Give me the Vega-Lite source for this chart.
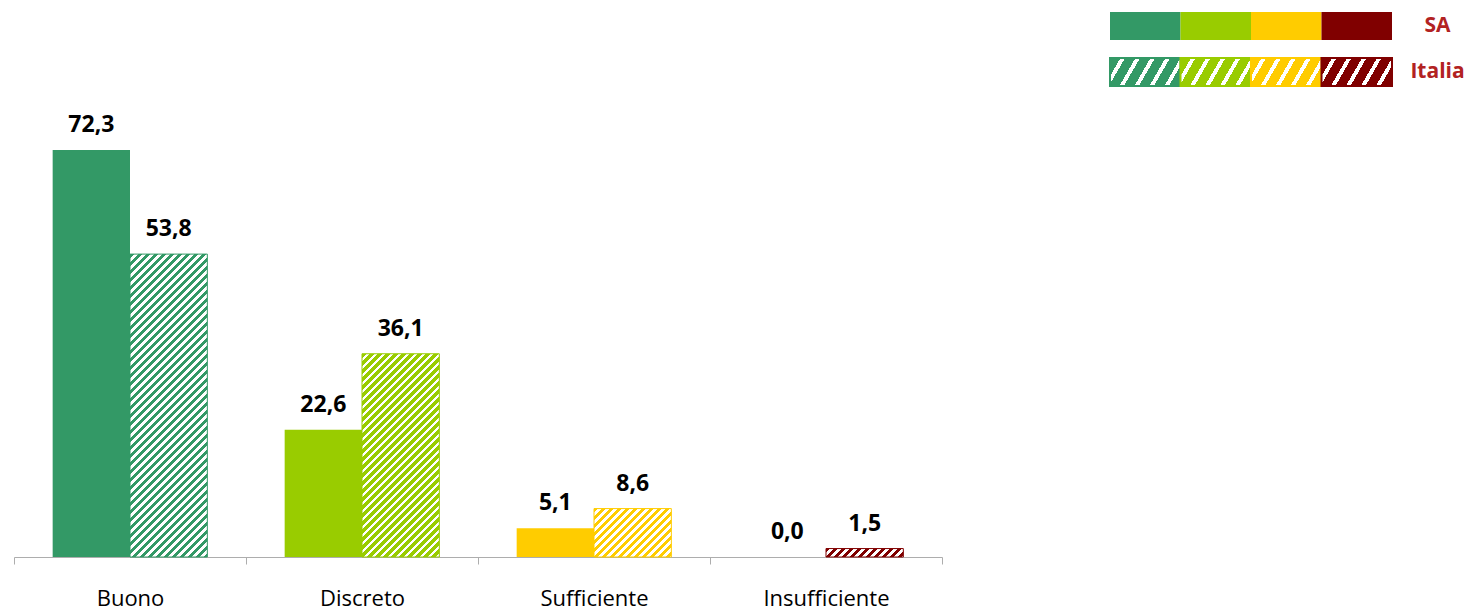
{
 "$schema": "https://vega.github.io/schema/vega-lite/v6.json",
 "padding": {"left": 13, "top": 12, "right": 2, "bottom": 0},
 "config": {
  "view": {"stroke": null},
  "font": "Open Sans",
  "locale": {"number": {"decimal": ",", "thousands": ".", "grouping": [3], "currency": ["€", ""]}}
 },
 "data": {"values": [
  {"cat": "Buono", "series": "SA", "value": 72.3},
  {"cat": "Buono", "series": "Italia", "value": 53.8},
  {"cat": "Discreto", "series": "SA", "value": 22.6},
  {"cat": "Discreto", "series": "Italia", "value": 36.1},
  {"cat": "Sufficiente", "series": "SA", "value": 5.1},
  {"cat": "Sufficiente", "series": "Italia", "value": 8.6},
  {"cat": "Insufficiente", "series": "SA", "value": 0},
  {"cat": "Insufficiente", "series": "Italia", "value": 1.5}
 ]},
 "spacing": 166,
 "hconcat": [
  {
   "width": 928,
   "height": 545,
   "encoding": {
    "x": {"field": "cat", "type": "nominal", "sort": ["Buono", "Discreto", "Sufficiente", "Insufficiente"],
     "scale": {"paddingInner": 0, "paddingOuter": 0},
     "axis": {"title": null, "labelAngle": 0, "labelFont": "Open Sans", "labelFontSize": 22, "labelColor": "#000000", "labelPadding": 24, "tickSize": 7, "tickColor": "#ADADAD", "domainColor": "#ADADAD", "tickBand": "extent"}},
    "xOffset": {"field": "series", "type": "nominal", "sort": ["SA", "Italia"], "scale": {"paddingInner": 0, "paddingOuter": 0.5}},
    "y": {"field": "value", "type": "quantitative", "scale": {"domain": [0, 96.8], "nice": false}, "axis": null}
   },
   "layer": [
    {
     "mark": {"type": "bar"},
     "encoding": {
      "fill": {
       "field": "cat", "type": "nominal", "legend": null,
       "scale": {"domain": ["Buono", "Discreto", "Sufficiente", "Insufficiente"], "range": ["#339966", "#99cc00", "#ffcc00", "#800000"]},
       "condition": [
        {"test": "datum.series == 'Italia' && datum.cat == 'Buono'", "value": {"gradient": "linear", "x1": 0, "y1": 0, "x2": 0.31651, "y2": 1.23976, "stops": [
{"offset":0,"color":"#396"},{"offset":0.011,"color":"#396"},{"offset":0.011,"color":"#fff"},{"offset":0.02,"color":"#fff"},
{"offset":0.02,"color":"#396"},{"offset":0.031,"color":"#396"},{"offset":0.031,"color":"#fff"},{"offset":0.04,"color":"#fff"},
{"offset":0.04,"color":"#396"},{"offset":0.051,"color":"#396"},{"offset":0.051,"color":"#fff"},{"offset":0.06,"color":"#fff"},
{"offset":0.06,"color":"#396"},{"offset":0.071,"color":"#396"},{"offset":0.071,"color":"#fff"},{"offset":0.08,"color":"#fff"},
{"offset":0.08,"color":"#396"},{"offset":0.091,"color":"#396"},{"offset":0.091,"color":"#fff"},{"offset":0.1,"color":"#fff"},
{"offset":0.1,"color":"#396"},{"offset":0.111,"color":"#396"},{"offset":0.111,"color":"#fff"},{"offset":0.12,"color":"#fff"},
{"offset":0.12,"color":"#396"},{"offset":0.131,"color":"#396"},{"offset":0.131,"color":"#fff"},{"offset":0.14,"color":"#fff"},
{"offset":0.14,"color":"#396"},{"offset":0.151,"color":"#396"},{"offset":0.151,"color":"#fff"},{"offset":0.16,"color":"#fff"},
{"offset":0.16,"color":"#396"},{"offset":0.171,"color":"#396"},{"offset":0.171,"color":"#fff"},{"offset":0.18,"color":"#fff"},
{"offset":0.18,"color":"#396"},{"offset":0.191,"color":"#396"},{"offset":0.191,"color":"#fff"},{"offset":0.2,"color":"#fff"},
{"offset":0.2,"color":"#396"},{"offset":0.211,"color":"#396"},{"offset":0.211,"color":"#fff"},{"offset":0.22,"color":"#fff"},
{"offset":0.22,"color":"#396"},{"offset":0.231,"color":"#396"},{"offset":0.231,"color":"#fff"},{"offset":0.24,"color":"#fff"},
{"offset":0.24,"color":"#396"},{"offset":0.251,"color":"#396"},{"offset":0.251,"color":"#fff"},{"offset":0.26,"color":"#fff"},
{"offset":0.26,"color":"#396"},{"offset":0.271,"color":"#396"},{"offset":0.271,"color":"#fff"},{"offset":0.28,"color":"#fff"},
{"offset":0.28,"color":"#396"},{"offset":0.291,"color":"#396"},{"offset":0.291,"color":"#fff"},{"offset":0.3,"color":"#fff"},
{"offset":0.3,"color":"#396"},{"offset":0.311,"color":"#396"},{"offset":0.311,"color":"#fff"},{"offset":0.32,"color":"#fff"},
{"offset":0.32,"color":"#396"},{"offset":0.331,"color":"#396"},{"offset":0.331,"color":"#fff"},{"offset":0.34,"color":"#fff"},
{"offset":0.34,"color":"#396"},{"offset":0.351,"color":"#396"},{"offset":0.351,"color":"#fff"},{"offset":0.36,"color":"#fff"},
{"offset":0.36,"color":"#396"},{"offset":0.371,"color":"#396"},{"offset":0.371,"color":"#fff"},{"offset":0.38,"color":"#fff"},
{"offset":0.38,"color":"#396"},{"offset":0.391,"color":"#396"},{"offset":0.391,"color":"#fff"},{"offset":0.4,"color":"#fff"},
{"offset":0.4,"color":"#396"},{"offset":0.411,"color":"#396"},{"offset":0.411,"color":"#fff"},{"offset":0.42,"color":"#fff"},
{"offset":0.42,"color":"#396"},{"offset":0.431,"color":"#396"},{"offset":0.431,"color":"#fff"},{"offset":0.44,"color":"#fff"},
{"offset":0.44,"color":"#396"},{"offset":0.451,"color":"#396"},{"offset":0.451,"color":"#fff"},{"offset":0.46,"color":"#fff"},
{"offset":0.46,"color":"#396"},{"offset":0.471,"color":"#396"},{"offset":0.471,"color":"#fff"},{"offset":0.48,"color":"#fff"},
{"offset":0.48,"color":"#396"},{"offset":0.491,"color":"#396"},{"offset":0.491,"color":"#fff"},{"offset":0.5,"color":"#fff"},
{"offset":0.5,"color":"#396"},{"offset":0.511,"color":"#396"},{"offset":0.511,"color":"#fff"},{"offset":0.52,"color":"#fff"},
{"offset":0.52,"color":"#396"},{"offset":0.531,"color":"#396"},{"offset":0.531,"color":"#fff"},{"offset":0.54,"color":"#fff"},
{"offset":0.54,"color":"#396"},{"offset":0.551,"color":"#396"},{"offset":0.551,"color":"#fff"},{"offset":0.56,"color":"#fff"},
{"offset":0.56,"color":"#396"},{"offset":0.571,"color":"#396"},{"offset":0.571,"color":"#fff"},{"offset":0.58,"color":"#fff"},
{"offset":0.58,"color":"#396"},{"offset":0.591,"color":"#396"},{"offset":0.591,"color":"#fff"},{"offset":0.6,"color":"#fff"},
{"offset":0.6,"color":"#396"},{"offset":0.611,"color":"#396"},{"offset":0.611,"color":"#fff"},{"offset":0.62,"color":"#fff"},
{"offset":0.62,"color":"#396"},{"offset":0.631,"color":"#396"},{"offset":0.631,"color":"#fff"},{"offset":0.64,"color":"#fff"},
{"offset":0.64,"color":"#396"},{"offset":0.651,"color":"#396"},{"offset":0.651,"color":"#fff"},{"offset":0.66,"color":"#fff"},
{"offset":0.66,"color":"#396"},{"offset":0.671,"color":"#396"},{"offset":0.671,"color":"#fff"},{"offset":0.68,"color":"#fff"},
{"offset":0.68,"color":"#396"},{"offset":0.691,"color":"#396"},{"offset":0.691,"color":"#fff"},{"offset":0.7,"color":"#fff"},
{"offset":0.7,"color":"#396"},{"offset":0.711,"color":"#396"},{"offset":0.711,"color":"#fff"},{"offset":0.72,"color":"#fff"},
{"offset":0.72,"color":"#396"},{"offset":0.731,"color":"#396"},{"offset":0.731,"color":"#fff"},{"offset":0.74,"color":"#fff"},
{"offset":0.74,"color":"#396"},{"offset":0.751,"color":"#396"},{"offset":0.751,"color":"#fff"},{"offset":0.76,"color":"#fff"},
{"offset":0.76,"color":"#396"},{"offset":0.771,"color":"#396"},{"offset":0.771,"color":"#fff"},{"offset":0.78,"color":"#fff"},
{"offset":0.78,"color":"#396"},{"offset":0.791,"color":"#396"},{"offset":0.791,"color":"#fff"},{"offset":0.8,"color":"#fff"},
{"offset":0.8,"color":"#396"},{"offset":0.811,"color":"#396"},{"offset":0.811,"color":"#fff"},{"offset":0.82,"color":"#fff"},
{"offset":0.82,"color":"#396"},{"offset":0.831,"color":"#396"},{"offset":0.831,"color":"#fff"},{"offset":0.84,"color":"#fff"},
{"offset":0.84,"color":"#396"},{"offset":0.851,"color":"#396"},{"offset":0.851,"color":"#fff"},{"offset":0.86,"color":"#fff"},
{"offset":0.86,"color":"#396"},{"offset":0.871,"color":"#396"},{"offset":0.871,"color":"#fff"},{"offset":0.88,"color":"#fff"},
{"offset":0.88,"color":"#396"},{"offset":0.891,"color":"#396"},{"offset":0.891,"color":"#fff"},{"offset":0.9,"color":"#fff"},
{"offset":0.9,"color":"#396"},{"offset":0.911,"color":"#396"},{"offset":0.911,"color":"#fff"},{"offset":0.92,"color":"#fff"},
{"offset":0.92,"color":"#396"},{"offset":0.931,"color":"#396"},{"offset":0.931,"color":"#fff"},{"offset":0.94,"color":"#fff"},
{"offset":0.94,"color":"#396"},{"offset":0.951,"color":"#396"},{"offset":0.951,"color":"#fff"},{"offset":0.96,"color":"#fff"}
        ]}},
        {"test": "datum.series == 'Italia' && datum.cat == 'Discreto'", "value": {"gradient": "linear", "x1": 0, "y1": 0, "x2": 0.65408, "y2": 1.71914, "stops": [
{"offset":0,"color":"#9c0"},{"offset":0.011,"color":"#9c0"},{"offset":0.011,"color":"#fff"},{"offset":0.02,"color":"#fff"},
{"offset":0.02,"color":"#9c0"},{"offset":0.031,"color":"#9c0"},{"offset":0.031,"color":"#fff"},{"offset":0.04,"color":"#fff"},
{"offset":0.04,"color":"#9c0"},{"offset":0.051,"color":"#9c0"},{"offset":0.051,"color":"#fff"},{"offset":0.06,"color":"#fff"},
{"offset":0.06,"color":"#9c0"},{"offset":0.071,"color":"#9c0"},{"offset":0.071,"color":"#fff"},{"offset":0.08,"color":"#fff"},
{"offset":0.08,"color":"#9c0"},{"offset":0.091,"color":"#9c0"},{"offset":0.091,"color":"#fff"},{"offset":0.1,"color":"#fff"},
{"offset":0.1,"color":"#9c0"},{"offset":0.111,"color":"#9c0"},{"offset":0.111,"color":"#fff"},{"offset":0.12,"color":"#fff"},
{"offset":0.12,"color":"#9c0"},{"offset":0.131,"color":"#9c0"},{"offset":0.131,"color":"#fff"},{"offset":0.14,"color":"#fff"},
{"offset":0.14,"color":"#9c0"},{"offset":0.151,"color":"#9c0"},{"offset":0.151,"color":"#fff"},{"offset":0.16,"color":"#fff"},
{"offset":0.16,"color":"#9c0"},{"offset":0.171,"color":"#9c0"},{"offset":0.171,"color":"#fff"},{"offset":0.18,"color":"#fff"},
{"offset":0.18,"color":"#9c0"},{"offset":0.191,"color":"#9c0"},{"offset":0.191,"color":"#fff"},{"offset":0.2,"color":"#fff"},
{"offset":0.2,"color":"#9c0"},{"offset":0.211,"color":"#9c0"},{"offset":0.211,"color":"#fff"},{"offset":0.22,"color":"#fff"},
{"offset":0.22,"color":"#9c0"},{"offset":0.231,"color":"#9c0"},{"offset":0.231,"color":"#fff"},{"offset":0.24,"color":"#fff"},
{"offset":0.24,"color":"#9c0"},{"offset":0.251,"color":"#9c0"},{"offset":0.251,"color":"#fff"},{"offset":0.26,"color":"#fff"},
{"offset":0.26,"color":"#9c0"},{"offset":0.271,"color":"#9c0"},{"offset":0.271,"color":"#fff"},{"offset":0.28,"color":"#fff"},
{"offset":0.28,"color":"#9c0"},{"offset":0.291,"color":"#9c0"},{"offset":0.291,"color":"#fff"},{"offset":0.3,"color":"#fff"},
{"offset":0.3,"color":"#9c0"},{"offset":0.311,"color":"#9c0"},{"offset":0.311,"color":"#fff"},{"offset":0.32,"color":"#fff"},
{"offset":0.32,"color":"#9c0"},{"offset":0.331,"color":"#9c0"},{"offset":0.331,"color":"#fff"},{"offset":0.34,"color":"#fff"},
{"offset":0.34,"color":"#9c0"},{"offset":0.351,"color":"#9c0"},{"offset":0.351,"color":"#fff"},{"offset":0.36,"color":"#fff"},
{"offset":0.36,"color":"#9c0"},{"offset":0.371,"color":"#9c0"},{"offset":0.371,"color":"#fff"},{"offset":0.38,"color":"#fff"},
{"offset":0.38,"color":"#9c0"},{"offset":0.391,"color":"#9c0"},{"offset":0.391,"color":"#fff"},{"offset":0.4,"color":"#fff"},
{"offset":0.4,"color":"#9c0"},{"offset":0.411,"color":"#9c0"},{"offset":0.411,"color":"#fff"},{"offset":0.42,"color":"#fff"},
{"offset":0.42,"color":"#9c0"},{"offset":0.431,"color":"#9c0"},{"offset":0.431,"color":"#fff"},{"offset":0.44,"color":"#fff"},
{"offset":0.44,"color":"#9c0"},{"offset":0.451,"color":"#9c0"},{"offset":0.451,"color":"#fff"},{"offset":0.46,"color":"#fff"},
{"offset":0.46,"color":"#9c0"},{"offset":0.471,"color":"#9c0"},{"offset":0.471,"color":"#fff"},{"offset":0.48,"color":"#fff"},
{"offset":0.48,"color":"#9c0"},{"offset":0.491,"color":"#9c0"},{"offset":0.491,"color":"#fff"},{"offset":0.5,"color":"#fff"},
{"offset":0.5,"color":"#9c0"},{"offset":0.511,"color":"#9c0"},{"offset":0.511,"color":"#fff"},{"offset":0.52,"color":"#fff"},
{"offset":0.52,"color":"#9c0"},{"offset":0.531,"color":"#9c0"},{"offset":0.531,"color":"#fff"},{"offset":0.54,"color":"#fff"},
{"offset":0.54,"color":"#9c0"},{"offset":0.551,"color":"#9c0"},{"offset":0.551,"color":"#fff"},{"offset":0.56,"color":"#fff"},
{"offset":0.56,"color":"#9c0"},{"offset":0.571,"color":"#9c0"},{"offset":0.571,"color":"#fff"},{"offset":0.58,"color":"#fff"},
{"offset":0.58,"color":"#9c0"},{"offset":0.591,"color":"#9c0"},{"offset":0.591,"color":"#fff"},{"offset":0.6,"color":"#fff"},
{"offset":0.6,"color":"#9c0"},{"offset":0.611,"color":"#9c0"},{"offset":0.611,"color":"#fff"},{"offset":0.62,"color":"#fff"},
{"offset":0.62,"color":"#9c0"},{"offset":0.631,"color":"#9c0"},{"offset":0.631,"color":"#fff"},{"offset":0.64,"color":"#fff"},
{"offset":0.64,"color":"#9c0"},{"offset":0.651,"color":"#9c0"},{"offset":0.651,"color":"#fff"},{"offset":0.66,"color":"#fff"},
{"offset":0.66,"color":"#9c0"},{"offset":0.671,"color":"#9c0"},{"offset":0.671,"color":"#fff"},{"offset":0.68,"color":"#fff"},
{"offset":0.68,"color":"#9c0"},{"offset":0.691,"color":"#9c0"},{"offset":0.691,"color":"#fff"},{"offset":0.7,"color":"#fff"},
{"offset":0.7,"color":"#9c0"},{"offset":0.711,"color":"#9c0"},{"offset":0.711,"color":"#fff"},{"offset":0.72,"color":"#fff"}
        ]}},
        {"test": "datum.series == 'Italia' && datum.cat == 'Sufficiente'", "value": {"gradient": "linear", "x1": 0, "y1": 0, "x2": 3.71578, "y2": 2.32663, "stops": [
{"offset":0,"color":"#fc0"},{"offset":0.011,"color":"#fc0"},{"offset":0.011,"color":"#fff"},{"offset":0.02,"color":"#fff"},
{"offset":0.02,"color":"#fc0"},{"offset":0.031,"color":"#fc0"},{"offset":0.031,"color":"#fff"},{"offset":0.04,"color":"#fff"},
{"offset":0.04,"color":"#fc0"},{"offset":0.051,"color":"#fc0"},{"offset":0.051,"color":"#fff"},{"offset":0.06,"color":"#fff"},
{"offset":0.06,"color":"#fc0"},{"offset":0.071,"color":"#fc0"},{"offset":0.071,"color":"#fff"},{"offset":0.08,"color":"#fff"},
{"offset":0.08,"color":"#fc0"},{"offset":0.091,"color":"#fc0"},{"offset":0.091,"color":"#fff"},{"offset":0.1,"color":"#fff"},
{"offset":0.1,"color":"#fc0"},{"offset":0.111,"color":"#fc0"},{"offset":0.111,"color":"#fff"},{"offset":0.12,"color":"#fff"},
{"offset":0.12,"color":"#fc0"},{"offset":0.131,"color":"#fc0"},{"offset":0.131,"color":"#fff"},{"offset":0.14,"color":"#fff"},
{"offset":0.14,"color":"#fc0"},{"offset":0.151,"color":"#fc0"},{"offset":0.151,"color":"#fff"},{"offset":0.16,"color":"#fff"},
{"offset":0.16,"color":"#fc0"},{"offset":0.171,"color":"#fc0"},{"offset":0.171,"color":"#fff"},{"offset":0.18,"color":"#fff"},
{"offset":0.18,"color":"#fc0"},{"offset":0.191,"color":"#fc0"},{"offset":0.191,"color":"#fff"},{"offset":0.2,"color":"#fff"},
{"offset":0.2,"color":"#fc0"},{"offset":0.211,"color":"#fc0"},{"offset":0.211,"color":"#fff"},{"offset":0.22,"color":"#fff"},
{"offset":0.22,"color":"#fc0"},{"offset":0.231,"color":"#fc0"},{"offset":0.231,"color":"#fff"},{"offset":0.24,"color":"#fff"},
{"offset":0.24,"color":"#fc0"},{"offset":0.251,"color":"#fc0"},{"offset":0.251,"color":"#fff"},{"offset":0.26,"color":"#fff"},
{"offset":0.26,"color":"#fc0"},{"offset":0.271,"color":"#fc0"},{"offset":0.271,"color":"#fff"},{"offset":0.28,"color":"#fff"},
{"offset":0.28,"color":"#fc0"},{"offset":0.291,"color":"#fc0"},{"offset":0.291,"color":"#fff"},{"offset":0.3,"color":"#fff"},
{"offset":0.3,"color":"#fc0"},{"offset":0.311,"color":"#fc0"},{"offset":0.311,"color":"#fff"},{"offset":0.32,"color":"#fff"}
        ]}},
        {"test": "datum.series == 'Italia' && datum.cat == 'Insufficiente'", "value": {"gradient": "linear", "x1": 0, "y1": 0, "x2": 5.11164, "y2": 0.55823, "stops": [
{"offset":0,"color":"#800000"},{"offset":0.011,"color":"#800000"},{"offset":0.011,"color":"#fff"},{"offset":0.02,"color":"#fff"},
{"offset":0.02,"color":"#800000"},{"offset":0.031,"color":"#800000"},{"offset":0.031,"color":"#fff"},{"offset":0.04,"color":"#fff"},
{"offset":0.04,"color":"#800000"},{"offset":0.051,"color":"#800000"},{"offset":0.051,"color":"#fff"},{"offset":0.06,"color":"#fff"},
{"offset":0.06,"color":"#800000"},{"offset":0.071,"color":"#800000"},{"offset":0.071,"color":"#fff"},{"offset":0.08,"color":"#fff"},
{"offset":0.08,"color":"#800000"},{"offset":0.091,"color":"#800000"},{"offset":0.091,"color":"#fff"},{"offset":0.1,"color":"#fff"},
{"offset":0.1,"color":"#800000"},{"offset":0.111,"color":"#800000"},{"offset":0.111,"color":"#fff"},{"offset":0.12,"color":"#fff"},
{"offset":0.12,"color":"#800000"},{"offset":0.131,"color":"#800000"},{"offset":0.131,"color":"#fff"},{"offset":0.14,"color":"#fff"},
{"offset":0.14,"color":"#800000"},{"offset":0.151,"color":"#800000"},{"offset":0.151,"color":"#fff"},{"offset":0.16,"color":"#fff"},
{"offset":0.16,"color":"#800000"},{"offset":0.171,"color":"#800000"},{"offset":0.171,"color":"#fff"},{"offset":0.18,"color":"#fff"},
{"offset":0.18,"color":"#800000"},{"offset":0.191,"color":"#800000"},{"offset":0.191,"color":"#fff"},{"offset":0.2,"color":"#fff"},
{"offset":0.2,"color":"#800000"},{"offset":0.211,"color":"#800000"},{"offset":0.211,"color":"#fff"},{"offset":0.22,"color":"#fff"}
        ]}}
       ]
      },
      "stroke": {"field": "cat", "type": "nominal", "legend": null,
       "scale": {"domain": ["Buono", "Discreto", "Sufficiente", "Insufficiente"], "range": ["#339966", "#99cc00", "#ffcc00", "#800000"]}},
      "strokeWidth": {"condition": {"test": "datum.series == 'Italia'", "value": 1}, "value": 0}
     }
    },
    {
     "mark": {"type": "text", "baseline": "alphabetic", "dy": -18, "font": "Open Sans", "fontSize": 23, "fontWeight": "bold", "color": "#000000"},
     "encoding": {"text": {"field": "value", "type": "quantitative", "format": ".1f"}}
    }
   ]
  },
  {
   "width": 282,
   "height": 74,
   "mark": {"type": "rect"},
   "encoding": {
    "x": {"field": "cat", "type": "nominal", "sort": ["Buono", "Discreto", "Sufficiente", "Insufficiente"], "scale": {"paddingInner": 0, "paddingOuter": 0}, "axis": null},
    "y": {"field": "series", "type": "nominal", "sort": ["SA", "Italia"], "scale": {"paddingInner": 0.3913, "paddingOuter": 0},
     "axis": {"orient": "right", "title": null, "domain": false, "ticks": false, "tickSize": 0, "labelAlign": "center", "labelPadding": 45, "labelFont": "Open Sans", "labelFontWeight": "bold", "labelFontSize": 21, "labelColor": "#B22222"}},
    "fill": {
     "field": "cat", "type": "nominal", "legend": null,
     "scale": {"domain": ["Buono", "Discreto", "Sufficiente", "Insufficiente"], "range": ["#339966", "#99cc00", "#ffcc00", "#800000"]},
     "condition": [
      {"test": "datum.series == 'Italia' && datum.cat == 'Buono'", "value": {"gradient": "linear", "x1": 0, "y1": 0, "x2": 2.02138, "y2": 0.4635, "stops": [
{"offset":0,"color":"#396"},{"offset":0.07,"color":"#396"},{"offset":0.07,"color":"#fff"},{"offset":0.1,"color":"#fff"},
{"offset":0.1,"color":"#396"},{"offset":0.17,"color":"#396"},{"offset":0.17,"color":"#fff"},{"offset":0.2,"color":"#fff"},
{"offset":0.2,"color":"#396"},{"offset":0.27,"color":"#396"},{"offset":0.27,"color":"#fff"},{"offset":0.3,"color":"#fff"},
{"offset":0.3,"color":"#396"},{"offset":0.37,"color":"#396"},{"offset":0.37,"color":"#fff"},{"offset":0.4,"color":"#fff"},
{"offset":0.4,"color":"#396"},{"offset":0.47,"color":"#396"},{"offset":0.47,"color":"#fff"},{"offset":0.5,"color":"#fff"},
{"offset":0.5,"color":"#396"},{"offset":0.57,"color":"#396"},{"offset":0.57,"color":"#fff"},{"offset":0.6,"color":"#fff"}
      ]}},
      {"test": "datum.series == 'Italia' && datum.cat == 'Discreto'", "value": {"gradient": "linear", "x1": 0, "y1": 0, "x2": 2.02138, "y2": 0.4635, "stops": [
{"offset":0,"color":"#9c0"},{"offset":0.07,"color":"#9c0"},{"offset":0.07,"color":"#fff"},{"offset":0.1,"color":"#fff"},
{"offset":0.1,"color":"#9c0"},{"offset":0.17,"color":"#9c0"},{"offset":0.17,"color":"#fff"},{"offset":0.2,"color":"#fff"},
{"offset":0.2,"color":"#9c0"},{"offset":0.27,"color":"#9c0"},{"offset":0.27,"color":"#fff"},{"offset":0.3,"color":"#fff"},
{"offset":0.3,"color":"#9c0"},{"offset":0.37,"color":"#9c0"},{"offset":0.37,"color":"#fff"},{"offset":0.4,"color":"#fff"},
{"offset":0.4,"color":"#9c0"},{"offset":0.47,"color":"#9c0"},{"offset":0.47,"color":"#fff"},{"offset":0.5,"color":"#fff"},
{"offset":0.5,"color":"#9c0"},{"offset":0.57,"color":"#9c0"},{"offset":0.57,"color":"#fff"},{"offset":0.6,"color":"#fff"}
      ]}},
      {"test": "datum.series == 'Italia' && datum.cat == 'Sufficiente'", "value": {"gradient": "linear", "x1": 0, "y1": 0, "x2": 2.02138, "y2": 0.4635, "stops": [
{"offset":0,"color":"#fc0"},{"offset":0.07,"color":"#fc0"},{"offset":0.07,"color":"#fff"},{"offset":0.1,"color":"#fff"},
{"offset":0.1,"color":"#fc0"},{"offset":0.17,"color":"#fc0"},{"offset":0.17,"color":"#fff"},{"offset":0.2,"color":"#fff"},
{"offset":0.2,"color":"#fc0"},{"offset":0.27,"color":"#fc0"},{"offset":0.27,"color":"#fff"},{"offset":0.3,"color":"#fff"},
{"offset":0.3,"color":"#fc0"},{"offset":0.37,"color":"#fc0"},{"offset":0.37,"color":"#fff"},{"offset":0.4,"color":"#fff"},
{"offset":0.4,"color":"#fc0"},{"offset":0.47,"color":"#fc0"},{"offset":0.47,"color":"#fff"},{"offset":0.5,"color":"#fff"},
{"offset":0.5,"color":"#fc0"},{"offset":0.57,"color":"#fc0"},{"offset":0.57,"color":"#fff"},{"offset":0.6,"color":"#fff"}
      ]}},
      {"test": "datum.series == 'Italia' && datum.cat == 'Insufficiente'", "value": {"gradient": "linear", "x1": 0, "y1": 0, "x2": 2.02138, "y2": 0.4635, "stops": [
{"offset":0,"color":"#800000"},{"offset":0.07,"color":"#800000"},{"offset":0.07,"color":"#fff"},{"offset":0.1,"color":"#fff"},
{"offset":0.1,"color":"#800000"},{"offset":0.17,"color":"#800000"},{"offset":0.17,"color":"#fff"},{"offset":0.2,"color":"#fff"},
{"offset":0.2,"color":"#800000"},{"offset":0.27,"color":"#800000"},{"offset":0.27,"color":"#fff"},{"offset":0.3,"color":"#fff"},
{"offset":0.3,"color":"#800000"},{"offset":0.37,"color":"#800000"},{"offset":0.37,"color":"#fff"},{"offset":0.4,"color":"#fff"},
{"offset":0.4,"color":"#800000"},{"offset":0.47,"color":"#800000"},{"offset":0.47,"color":"#fff"},{"offset":0.5,"color":"#fff"},
{"offset":0.5,"color":"#800000"},{"offset":0.57,"color":"#800000"},{"offset":0.57,"color":"#fff"},{"offset":0.6,"color":"#fff"}
      ]}}
     ]
    },
    "stroke": {"field": "cat", "type": "nominal", "legend": null,
     "scale": {"domain": ["Buono", "Discreto", "Sufficiente", "Insufficiente"], "range": ["#339966", "#99cc00", "#ffcc00", "#800000"]}},
    "strokeWidth": {"condition": {"test": "datum.series == 'Italia'", "value": 2}, "value": 0}
   }
  }
 ]
}
